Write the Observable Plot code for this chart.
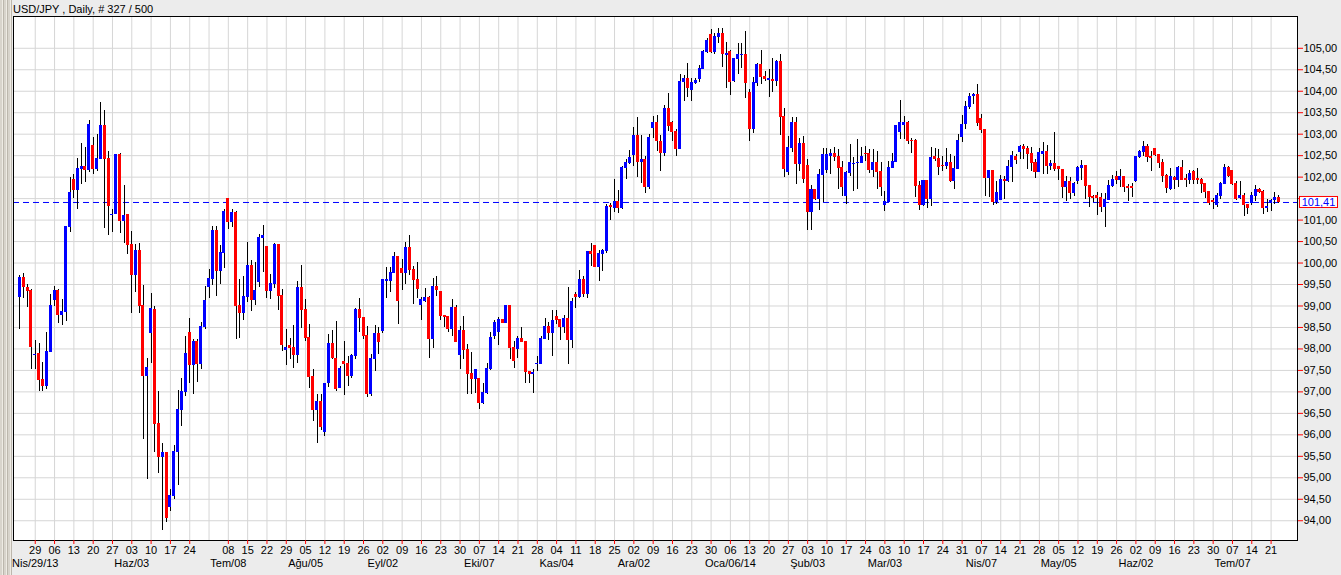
<!DOCTYPE html>
<html><head><meta charset="utf-8">
<script src="https://cdn.jsdelivr.net/npm/d3@7"></script>
<script src="https://cdn.jsdelivr.net/npm/@observablehq/plot@0.6"></script>
<style>
html,body{margin:0;padding:0;background:#ececec;width:1341px;height:575px;overflow:hidden;font-family:"Liberation Sans",Arial,sans-serif;}
#wrap{position:relative;width:1341px;height:575px;}
#stripes{position:absolute;left:0;top:0;width:12px;height:575px;background:repeating-linear-gradient(90deg,#d8d4cc 0 2px,#eeebe4 2px 3px,#bcb7ad 3px 4px);}
#title{position:absolute;left:13px;top:0;height:15px;line-height:18px;font-size:11px;color:#000;white-space:nowrap;}
#chart{position:absolute;left:0;top:15px;}
</style></head>
<body><div id="wrap"><div id="stripes"></div><div id="title">USD/JPY , Daily, # 327 / 500</div><div id="chart"></div></div>
<script>
const firstDay = "2013-04-23";
const lastDay = "2014-07-24";
const lastPrice = 101.41;

const open = [99.20,99.66,99.43,99.34,97.85,97.88,97.27,97.14,97.94,99.13,99.36,98.79,98.87,100.83,101.94,101.69,102.20,102.24,102.16,102.73,102.18,102.43,103.20,102.43,101.11,101.14,102.52,100.97,101.13,100.41,99.73,100.27,99.01,97.37,98.37,98.90,96.25,95.48,95.57,94.32,94.57,95.59,96.57,97.00,98.38,97.62,98.15,97.65,98.50,99.45,99.62,100.75,99.82,100.24,101.50,100.95,101.17,99.01,98.83,99.20,99.94,99.14,99.57,100.58,100.38,99.35,99.51,100.41,99.24,97.98,98.07,98.02,97.86,99.43,98.91,98.25,97.34,96.59,96.76,96.07,97.21,98.12,97.77,97.09,97.70,97.65,97.36,97.84,98.90,98.73,98.30,96.94,97.77,98.35,98.42,99.58,99.58,99.77,100.13,99.85,99.77,100.34,99.83,99.60,99.03,99.12,99.18,98.22,99.44,99.32,98.76,98.74,98.46,98.95,97.85,98.42,97.98,97.41,97.29,97.30,96.73,96.97,97.54,98.29,98.39,98.67,98.61,99.00,98.03,98.01,98.24,98.17,97.47,97.42,97.64,97.65,98.24,98.51,98.38,98.74,98.67,98.51,98.70,98.21,99.25,99.20,99.60,99.29,100.25,100.39,99.91,100.21,100.28,101.32,101.28,101.41,101.27,102.21,102.33,102.52,102.96,102.36,102.39,101.76,103.15,103.27,102.81,102.56,103.59,103.27,103.06,102.65,104.22,104.29,104.04,104.20,104.29,104.52,104.92,105.31,104.92,105.26,105.34,104.85,104.92,104.24,104.74,104.84,104.84,103.95,103.13,104.20,104.60,104.32,104.27,104.27,104.24,104.67,103.41,102.11,102.69,103.25,102.30,102.76,102.25,101.18,101.69,101.49,102.04,102.16,102.50,102.53,102.48,102.21,101.55,102.09,102.30,102.32,102.34,102.54,102.53,102.16,102.33,102.13,101.35,101.43,102.22,102.36,103.06,103.22,103.27,102.85,102.83,101.79,101.36,101.90,101.49,102.47,102.42,102.27,102.26,102.32,101.92,102.19,102.93,103.23,103.64,103.88,103.92,103.36,103.10,101.99,102.15,101.41,101.47,101.94,101.92,102.24,102.47,102.59,102.70,102.66,102.53,102.33,102.13,102.55,102.59,102.27,102.30,102.24,102.17,101.76,101.89,101.62,101.92,102.22,102.26,101.80,101.53,101.57,101.51,101.30,101.47,101.80,102.01,101.94,102.01,101.77,101.77,101.92,102.47,102.59,102.70,102.47,102.66,102.52,102.33,102.03,101.72,101.98,101.93,102.21,101.95,101.94,102.12,101.95,101.94,101.85,101.66,101.45,101.34,101.57,101.85,102.21,102.15,101.85,101.51,101.57,101.34,101.39,101.57,101.71,101.66,101.27,101.39,101.47,101.51];
const high = [99.72,99.76,99.51,99.39,98.20,98.13,97.69,98.38,99.27,99.45,99.39,99.14,100.86,101.99,102.06,102.44,102.78,102.69,103.31,102.93,102.99,103.73,103.56,102.59,101.24,102.52,102.54,101.80,101.13,100.73,100.42,100.46,99.47,97.77,99.28,98.99,97.00,95.79,95.57,94.72,95.76,97.03,97.31,98.30,98.70,98.21,98.22,98.62,99.45,99.86,100.85,100.85,100.41,101.24,101.50,101.24,101.20,99.62,99.69,100.48,100.05,100.01,100.66,100.87,100.38,99.73,100.45,100.43,99.38,98.45,98.24,98.54,99.57,99.94,99.15,98.56,97.53,96.95,96.93,97.19,98.34,98.43,98.63,97.59,98.17,97.82,97.88,98.95,99.18,98.73,98.52,97.88,98.55,98.50,99.61,99.89,99.89,100.25,100.15,100.08,100.48,100.64,99.91,100.02,99.20,99.41,99.21,99.64,99.68,99.32,98.76,98.74,99.16,99.01,98.52,98.76,98.11,97.92,97.51,97.32,97.19,97.67,98.38,98.67,98.73,98.69,99.00,99.00,98.17,98.29,98.51,98.17,97.47,97.53,97.82,98.30,98.72,98.61,98.89,98.89,98.67,98.79,99.44,99.17,99.32,99.83,99.68,100.25,100.46,100.39,100.29,100.31,101.37,101.39,101.95,101.68,102.24,102.42,102.63,103.15,103.40,102.98,102.47,103.00,103.42,103.43,102.98,103.66,103.95,103.29,103.12,104.38,104.36,104.64,104.29,104.30,104.60,104.95,105.22,105.43,105.35,105.47,105.47,105.14,104.95,104.77,105.10,105.10,105.38,104.03,104.33,104.64,104.95,104.46,104.50,104.76,104.71,104.85,103.59,102.95,103.39,103.38,102.89,102.94,102.42,101.80,101.71,102.17,102.67,102.67,102.64,102.69,102.64,102.36,102.13,102.77,102.46,102.87,102.69,102.71,102.64,102.64,102.60,102.33,101.67,102.36,102.56,103.18,103.78,103.41,103.29,102.89,102.88,101.90,101.90,101.90,102.69,102.67,102.64,102.48,102.67,102.52,102.49,103.00,103.43,103.76,103.95,103.95,104.15,103.46,103.10,102.16,102.16,101.90,102.03,102.01,102.38,102.59,102.53,102.74,102.75,102.72,102.69,102.42,102.67,102.80,102.73,102.38,103.05,102.24,102.17,102.02,101.99,101.87,102.25,102.38,102.27,101.80,101.57,101.64,101.61,101.61,101.92,102.03,102.13,102.18,102.02,101.82,101.85,102.49,102.63,102.82,102.76,102.59,102.66,102.52,102.41,102.05,102.21,102.01,102.24,102.38,102.05,102.16,102.16,102.19,101.97,101.85,101.67,101.51,101.62,101.88,102.29,102.24,102.16,101.89,101.89,101.62,101.37,101.64,101.81,101.74,101.68,101.47,101.49,101.64,101.57];
const low = [98.46,99.18,98.97,97.53,97.53,97.00,97.00,97.05,97.92,98.99,98.60,98.55,98.63,100.72,101.50,101.25,101.83,101.87,102.10,102.07,102.13,102.43,100.81,100.65,100.72,101.12,100.69,100.46,100.21,98.83,99.31,98.83,95.89,94.97,97.67,95.58,95.11,93.77,93.97,94.21,94.49,94.82,96.20,96.90,97.19,96.95,97.23,97.53,98.45,99.17,99.48,99.22,99.49,99.88,100.77,100.83,98.23,98.25,98.66,99.09,98.87,99.02,99.44,99.79,99.17,99.16,99.40,98.89,97.94,97.61,97.75,97.55,97.67,98.47,98.17,97.09,96.30,95.79,96.10,95.97,97.11,97.75,97.01,97.07,96.91,97.13,97.32,97.76,98.39,98.21,96.86,96.90,97.47,97.88,98.36,99.18,99.32,99.75,98.56,99.35,99.49,99.72,99.03,99.18,98.66,99.07,97.78,98.02,99.21,98.66,98.50,98.38,98.28,98.15,97.53,97.76,96.95,96.95,96.97,96.59,96.70,96.93,97.50,98.21,98.09,98.59,98.61,97.76,97.55,97.77,98.15,97.19,97.19,96.97,97.47,97.65,98.24,98.19,97.82,98.56,98.19,98.36,97.63,98.01,98.93,99.18,99.20,99.17,99.91,99.90,99.58,99.81,100.22,100.99,101.18,101.16,101.25,101.95,102.30,102.25,101.99,101.85,101.62,101.72,102.90,102.59,102.14,102.48,103.06,102.83,102.48,102.64,103.76,103.85,103.76,104.15,104.21,104.50,104.88,104.87,104.86,105.12,104.55,104.07,103.90,104.21,104.38,104.53,103.84,102.83,103.02,104.11,104.15,104.22,103.85,103.98,104.11,102.97,102.00,102.04,102.57,101.84,102.13,101.86,100.76,100.75,101.45,101.22,101.40,102.09,102.05,102.36,101.71,101.55,101.37,102.02,101.67,101.71,102.33,102.36,102.09,101.98,101.71,101.55,101.19,101.41,102.21,102.33,102.87,102.87,102.75,102.56,101.53,101.22,101.32,101.28,101.32,102.36,102.04,102.13,102.17,101.88,101.71,102.19,102.81,103.10,103.57,103.70,103.19,103.01,101.54,101.53,101.34,101.37,101.47,101.49,101.88,101.88,102.30,102.41,102.40,102.17,102.12,101.97,102.10,102.05,102.05,102.15,102.13,101.92,101.51,101.44,101.49,101.56,101.82,101.92,101.49,101.30,101.41,101.10,101.18,100.83,101.46,101.76,101.84,101.75,101.64,101.44,101.53,101.88,102.44,102.49,102.34,102.13,102.49,102.19,101.87,101.62,101.70,101.72,101.75,101.92,101.76,101.84,101.84,101.84,101.63,101.51,101.34,101.25,101.30,101.49,101.85,101.99,101.81,101.45,101.47,101.08,101.14,101.34,101.44,101.62,101.12,101.18,101.20,101.36,101.38];
const close = [99.66,99.44,99.34,98.05,97.87,97.28,97.14,97.94,98.99,99.36,98.79,98.87,100.83,101.64,101.69,102.20,102.24,102.16,103.22,102.18,102.43,103.20,102.43,101.32,101.13,102.52,100.97,101.10,100.41,99.73,100.27,99.01,97.37,97.55,98.92,96.25,95.48,95.57,94.07,94.57,95.59,96.57,97.00,97.89,97.62,98.15,97.65,98.50,99.12,99.62,100.75,99.82,100.24,101.18,100.95,101.17,99.01,98.83,99.20,99.94,99.14,99.35,100.58,100.64,99.35,99.51,100.41,99.24,98.10,98.03,98.02,97.86,99.43,98.91,98.25,97.34,96.59,96.76,96.18,97.19,98.12,97.79,97.07,97.54,97.65,97.36,97.84,98.90,98.73,98.30,96.94,97.77,98.35,98.17,99.60,99.60,99.77,100.15,99.12,99.77,100.34,99.83,99.60,99.39,99.14,99.18,98.22,99.44,99.37,98.76,98.74,98.46,98.95,98.15,98.42,97.98,97.41,97.29,97.51,96.73,96.97,97.54,98.26,98.61,98.67,98.61,99.00,98.03,97.73,98.24,98.17,97.47,97.42,97.44,97.65,98.24,98.51,98.38,98.66,98.67,98.51,98.70,98.21,99.10,99.20,99.60,99.29,100.25,100.21,99.91,100.21,100.28,101.31,101.30,101.41,101.27,102.21,102.33,102.45,102.96,102.36,102.39,101.76,102.91,103.27,102.83,102.56,103.59,103.18,103.06,102.65,104.22,104.29,104.07,104.20,104.24,104.52,104.92,105.18,104.92,105.27,105.34,104.86,104.87,104.22,104.74,104.85,104.85,104.19,103.13,104.20,104.60,104.32,104.29,104.29,104.24,104.67,103.41,102.20,102.69,103.25,102.30,102.76,101.95,101.18,101.69,101.49,102.04,102.52,102.52,102.53,102.48,102.21,101.78,102.09,102.33,102.31,102.33,102.48,102.53,102.16,102.33,102.13,101.77,101.43,102.22,102.36,103.18,103.27,103.27,102.85,102.83,101.79,101.35,101.90,101.49,102.44,102.42,102.23,102.26,102.32,101.92,102.19,102.83,103.22,103.64,103.87,103.92,103.26,103.10,101.99,102.15,101.41,101.64,101.94,101.92,102.24,102.49,102.40,102.70,102.66,102.53,102.33,102.13,102.56,102.59,102.27,102.30,102.20,102.18,101.76,101.89,101.62,101.85,102.22,102.26,101.80,101.53,101.52,101.51,101.30,101.47,101.80,101.94,101.94,102.01,101.76,101.75,101.75,102.47,102.59,102.70,102.46,102.44,102.52,102.33,102.03,101.74,102.01,101.93,102.21,101.94,101.94,102.07,101.94,101.94,101.85,101.66,101.40,101.41,101.57,101.85,102.21,102.02,101.85,101.49,101.57,101.35,101.27,101.57,101.71,101.66,101.27,101.31,101.45,101.51,101.41];

const yTicks = [94,94.5,95,95.5,96,96.5,97,97.5,98,98.5,99,99.5,100,100.5,101,101.5,102,102.5,103,103.5,104,104.5,105];
// the 101,50 label sits under the current-price box in the reference
const hiddenYLabels = [101.5];
const weekTickDates = ["2013-04-29","2013-05-06","2013-05-13","2013-05-20","2013-05-27","2013-06-03","2013-06-10","2013-06-17","2013-06-24","2013-07-08","2013-07-15","2013-07-22","2013-07-29","2013-08-05","2013-08-12","2013-08-19","2013-08-26","2013-09-02","2013-09-09","2013-09-16","2013-09-23","2013-09-30","2013-10-07","2013-10-14","2013-10-21","2013-10-28","2013-11-04","2013-11-11","2013-11-18","2013-11-25","2013-12-02","2013-12-09","2013-12-16","2013-12-23","2013-12-30","2014-01-06","2014-01-13","2014-01-20","2014-01-27","2014-02-03","2014-02-10","2014-02-17","2014-02-24","2014-03-03","2014-03-10","2014-03-17","2014-03-24","2014-03-31","2014-04-07","2014-04-14","2014-04-21","2014-04-28","2014-05-05","2014-05-12","2014-05-19","2014-05-26","2014-06-02","2014-06-09","2014-06-16","2014-06-23","2014-06-30","2014-07-07","2014-07-14","2014-07-21"];
const gridOnlyDates = ["2013-07-01"];
const monthLabels = ["Nis/29/13","Haz/03","Tem/08","Ağu/05","Eyl/02","Eki/07","Kas/04","Ara/02","Oca/06/14","Şub/03","Mar/03","Nis/07","May/05","Haz/02","Tem/07"];
const monthLabelDates = ["2013-04-29","2013-06-03","2013-07-08","2013-08-05","2013-09-02","2013-10-07","2013-11-04","2013-12-02","2014-01-06","2014-02-03","2014-03-03","2014-04-07","2014-05-05","2014-06-02","2014-07-07"];

const key = d3.utcFormat("%Y-%m-%d");
const days = d3.utcDays(new Date(firstDay), d3.utcDay.offset(new Date(lastDay), 1)).filter(d => d.getUTCDay() % 6 !== 0);
const indexOf = new Map(days.map((d, i) => [key(d), i]));
const data = days.map((d, i) => ({i, date: d, o: open[i], h: high[i], l: low[i], c: close[i]}));

const weekIdx = weekTickDates.map(s => indexOf.get(s));
const weekLabel = new Map(weekTickDates.map(s => [indexOf.get(s), s.slice(8)]));
const gridIdx = weekIdx.concat(gridOnlyDates.map(s => indexOf.get(s)));
const monthIdx = monthLabelDates.map(s => indexOf.get(s));
const monthLabel = new Map(monthLabelDates.map((s, k) => [indexOf.get(s), monthLabels[k]]));
const fmt = v => v.toFixed(2).replace(".", ",");
const yLabelTicks = yTicks.filter(v => !hiddenYLabels.includes(v));

const plot = Plot.plot({
  width: 1341, height: 560,
  marginLeft: 13, marginRight: 44, marginTop: 1, marginBottom: 35,
  style: {background: "transparent", fontFamily: "'Liberation Sans', Arial, sans-serif", fontSize: "11px", color: "black", overflow: "visible"},
  x: {domain: [-1.63, 330.84], axis: null},
  y: {domain: [93.54, 105.74], axis: null},
  marks: [
    Plot.frame({fill: "white", stroke: "none"}),
    Plot.gridX(gridIdx, {stroke: "#d6d6d6", strokeOpacity: 1}),
    Plot.gridY(yTicks, {stroke: "#d6d6d6", strokeOpacity: 1}),
    Plot.ruleY([lastPrice], {stroke: "#0000ff", strokeDasharray: "6,4"}),
    Plot.ruleX(data, {x: "i", y1: "l", y2: "h", stroke: "black", shapeRendering: "crispEdges"}),
    Plot.rect(data, {x1: d => d.i - 0.39, x2: d => d.i + 0.39, y1: "o", y2: "c",
      fill: d => d.c >= d.o ? "#0000ff" : "#ff0000", insetTop: -0.5, insetBottom: -0.5, shapeRendering: "crispEdges"}),
    Plot.frame({stroke: "black"}),
    Plot.axisY(yTicks, {anchor: "right", tickSize: 5, stroke: "red", text: null, label: null}),
    Plot.axisY(yLabelTicks, {anchor: "right", tickSize: 0, tickPadding: 6, fill: "black", tickFormat: fmt, label: null}),
    Plot.axisX(weekIdx, {anchor: "bottom", tickSize: 4, tickPadding: 2, stroke: "red", fill: "black", tickFormat: d => weekLabel.get(d), label: null}),
    Plot.axisX(monthIdx, {anchor: "bottom", tickSize: 0, tickPadding: 19, fill: "black", tickFormat: d => monthLabel.get(d), label: null})
  ]
});
document.getElementById("chart").appendChild(plot);

// current price box on the right axis
const yy = plot.scale("y").apply(lastPrice);
const svg = d3.select(plot);
const g = svg.append("g");
g.append("rect").attr("x", 1299.5).attr("y", yy - 5.5).attr("width", 38).attr("height", 11)
  .attr("fill", "white").attr("stroke", "red");
g.append("text").attr("x", 1318.5).attr("y", yy).attr("dy", "0.36em").attr("text-anchor", "middle")
  .attr("fill", "#0000ff").style("font-size", "11px").text(fmt(lastPrice));
</script>
</body></html>
